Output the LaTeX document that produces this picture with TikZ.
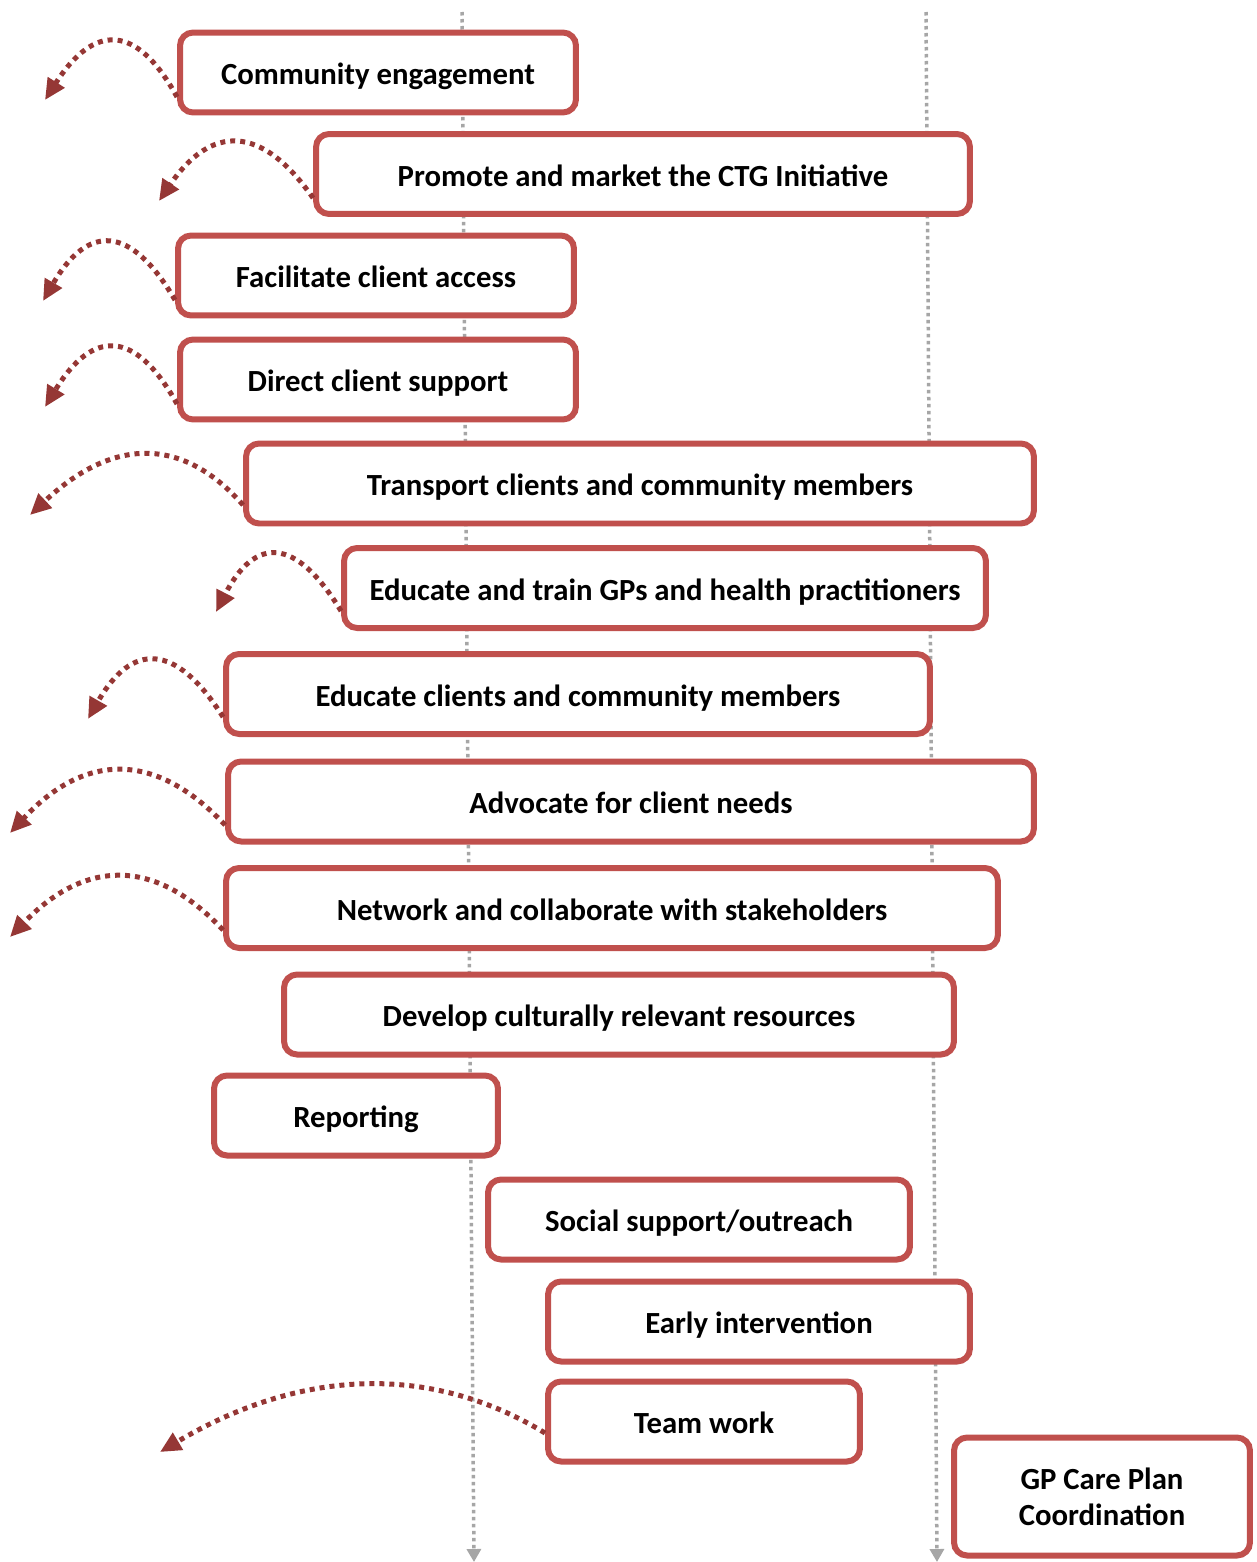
\documentclass[tikz,border=0pt]{standalone}
\usepackage{fontspec}
\setmainfont{Carlito}
\usetikzlibrary{arrows.meta,calc}

\definecolor{boxred}{HTML}{C0504D}
\definecolor{loopred}{HTML}{953735}
\definecolor{axisgrey}{HTML}{A6A6A6}

\begin{document}
\begin{tikzpicture}[x=0.02cm,y=-0.02cm]
  \tikzset{task/.style  = {draw=boxred, line width=0.12cm, fill=white,
                           rounded corners=0.26cm, minimum height=1.6cm,
                           text height=17pt, text depth=3.2pt,
                           align=center, font=\fontsize{17.5}{20.5}\selectfont\bfseries},
           loop/.style  = {draw=loopred, line width=0.1cm,
                           dash pattern=on 0.1cm off 0.1cm,
                           -{Triangle[length=0.42cm,width=0.38cm]}},
           axis/.style  = {draw=axisgrey, line width=0.07cm,
                           dash pattern=on 0.07cm off 0.07cm,
                           -{Triangle[length=0.26cm,width=0.28cm]}}}
  \useasboundingbox (0,0) rectangle (1257,1562);

  % time axes behind the boxes
  \coordinate (lt) at (462,12);
  \coordinate (lb) at (474,1562);
  \coordinate (rt) at (926,12);
  \coordinate (rb) at (937,1562);
  \draw[axis] (lt) -- (lb);
  \draw[axis] (rt) -- (rb);

  \node[task, minimum width=7.92cm]  (ce) at (378,72.5)  {Community engagement};
  \node[task, minimum width=13.08cm] (pm) at (643,174)   {Promote and market the CTG Initiative};
  \node[task, minimum width=7.92cm]  (fc) at (376,275.5) {Facilitate client access};
  \node[task, minimum width=7.92cm]  (dc) at (378,379.5) {Direct client support};
  \node[task, minimum width=15.76cm] (tc) at (640,483.5) {Transport clients and community members};
  \node[task, minimum width=12.84cm] (eg) at (665,588)   {Educate and train GPs and health practitioners};
  \node[task, minimum width=14.08cm] (ec) at (578,694)   {Educate clients and community members};
  \node[task, minimum width=16.12cm] (ad) at (631,801.5) {Advocate for client needs};
  \node[task, minimum width=15.44cm] (nc) at (612,908)   {Network and collaborate with stakeholders};
  \node[task, minimum width=13.4cm]  (dr) at (619,1014.5){Develop culturally relevant resources};
  \node[task, minimum width=5.68cm]  (re) at (356,1115.5){Reporting};
  \node[task, minimum width=8.44cm]  (ss) at (699,1219.5){Social support/outreach};
  \node[task, minimum width=8.44cm]  (ei) at (759,1321.5){Early intervention};
  \node[task, minimum width=6.24cm]  (tw) at (704,1421.5){Team work};
  \node[task, minimum width=5.92cm, minimum height=2.36cm, text height={}, text depth={}]
                                     (gp) at (1102,1496.5){GP Care Plan\\Coordination};

  % loop-back ends
  \coordinate (ce-t) at (45,100);
  \coordinate (pm-t) at (159,201);
  \coordinate (fc-t) at (43,301);
  \coordinate (dc-t) at (45,407);
  \coordinate (tc-t) at (30,515);
  \coordinate (eg-t) at (216,612);
  \coordinate (ec-t) at (88,719);
  \coordinate (ad-t) at (10,833);
  \coordinate (nc-t) at (10,937);
  \coordinate (tw-t) at (160,1452);

  \draw[loop] ($(ce.west)+(0,24.5)$) .. controls +(-40.7,-74.3) and +(48.7,-76.3) .. (ce-t);
  \draw[loop] ($(pm.west)+(0,24)$)   .. controls +(-52,-74.3)   and +(52,-76.3)   .. (pm-t);
  \draw[loop] ($(fc.west)+(0,24.5)$) .. controls +(-44.7,-76.3) and +(44.7,-77)   .. (fc-t);
  \draw[loop] ($(dc.west)+(0,24.5)$) .. controls +(-42,-75.7)   and +(47.3,-77.7) .. (dc-t);
  \draw[loop] ($(tc.west)+(0,21.5)$) .. controls +(-61.7,-70)   and +(81.7,-76.7) .. (tc-t);
  \draw[loop] ($(eg.west)+(0,23)$)   .. controls +(-45.7,-75)   and +(39,-75.7)   .. (eg-t);
  \draw[loop] ($(ec.west)+(0,23)$)   .. controls +(-47.7,-75.3) and +(43.7,-76.7) .. (ec-t);
  \draw[loop] ($(ad.west)+(0,23.5)$) .. controls +(-70.3,-74.7) and +(74.3,-80)   .. (ad-t);
  \draw[loop] ($(nc.west)+(0,22)$)   .. controls +(-68.3,-73)   and +(75,-77.7)   .. (nc-t);
  \draw[loop] ($(tw.west)+(0,11.5)$) .. controls +(-115.3,-70.3) and +(139.3,-83) .. (tw-t);
\end{tikzpicture}
\end{document}
